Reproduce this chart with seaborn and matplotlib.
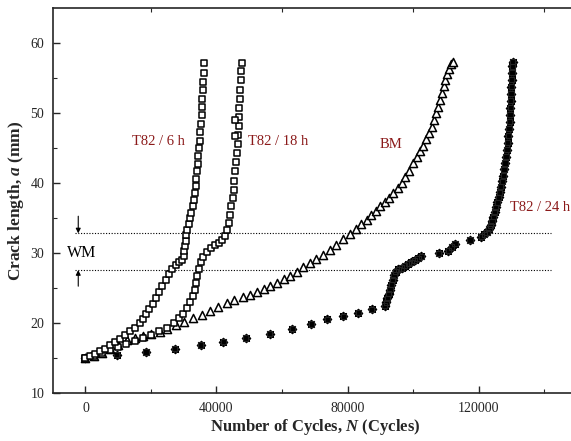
import numpy as np
import pandas as pd
import matplotlib
matplotlib.use("Agg")
import matplotlib.pyplot as plt
import seaborn as sns

sns.set_style("ticks")
plt.rcParams['font.family'] = ['Liberation Serif', 'DejaVu Serif']
plt.rcParams['mathtext.fontset'] = 'custom'
plt.rcParams['mathtext.rm'] = 'Liberation Serif'
plt.rcParams['mathtext.it'] = 'Liberation Serif:italic:bold'
plt.rcParams['mathtext.bf'] = 'Liberation Serif:bold'

# ---------------- data ----------------
n_6h = [0, 1500, 3000, 4500, 6000, 7500, 9000, 10500, 12000, 13500, 15000, 16500,
        17500, 18500, 19500, 20500, 21500, 22500, 23500, 24500, 25500, 26500, 27500,
        28500, 29500, 30000, 30200, 30400, 30600, 30800, 31100, 31500, 31900, 32300,
        32700, 33100, 33400, 33700, 33900, 34100, 34300, 34500, 34700, 34900, 35100,
        35300, 35500, 35600, 35700, 35800, 35900, 36100, 36300]
a_6h = [15.0, 15.3, 15.6, 16.0, 16.4, 16.9, 17.3, 17.8, 18.4, 18.9, 19.4, 20.0,
        20.6, 21.3, 22.0, 22.8, 23.6, 24.5, 25.3, 26.2, 27.1, 27.8, 28.3,
        28.7, 29.1, 29.6, 30.3, 31.0, 31.8, 32.6, 33.4, 34.2, 35.0, 35.8,
        36.7, 37.6, 38.6, 39.6, 40.6, 41.7, 42.8, 43.9, 45.0, 46.1, 47.3,
        48.5, 49.7, 50.9, 52.1, 53.3, 54.5, 55.8, 57.2]

n_18h = [0, 2500, 5000, 7500, 10000, 12500, 15000, 17500, 20000, 22500, 25000, 27000,
         28500, 29900, 31000, 32000, 32800, 33400, 33800, 34200, 34700, 35300, 36000,
         37000, 38200, 39500, 40800, 41800, 42600, 43200, 43700, 44100, 44500, 44900,
         45200, 45500, 45800, 46100, 46300, 46500, 46700, 46800, 46900, 47000, 47100,
         47300, 47400, 47500, 47700, 45600, 45600]
a_18h = [15.0, 15.4, 15.8, 16.2, 16.6, 17.0, 17.5, 17.9, 18.4, 18.9, 19.4, 20.0,
         20.7, 21.4, 22.2, 23.0, 23.9, 24.8, 25.8, 26.8, 27.8, 28.7, 29.5,
         30.2, 30.8, 31.2, 31.5, 31.9, 32.5, 33.4, 34.4, 35.5, 36.7, 37.9,
         39.1, 40.4, 41.7, 43.0, 44.3, 45.6, 46.9, 48.2, 49.5, 50.8, 52.1,
         53.4, 54.7, 56.0, 57.2, 49.0, 46.7]

n_bm = [0, 2500, 5000, 7500, 10000, 12600, 15000, 17500, 20000, 22700, 25000, 27500,
        30000, 32900, 35500, 38000, 40500, 43100, 45500, 48000, 50200, 52500, 54500,
        56300, 58500, 60500, 62400, 64500, 66500, 68500, 70500, 72500, 74600, 76500,
        78500, 80700, 82500, 84200, 85800, 87300, 88800, 90000, 91300, 92600, 94000,
        95300, 96500, 97700, 98900, 100100, 101200, 102200, 103100, 104000, 104900,
        105700, 106400, 107100, 107700, 108300, 108800, 109400, 109900, 110400,
        110900, 111500, 112300]
a_bm = [15.0, 15.4, 15.8, 16.3, 16.9, 17.6, 17.9, 18.2, 18.5, 18.8, 19.2, 19.7,
        20.2, 20.7, 21.2, 21.8, 22.4, 22.9, 23.4, 23.8, 24.1, 24.5, 24.9,
        25.3, 25.8, 26.3, 26.8, 27.4, 28.0, 28.6, 29.2, 29.8, 30.5, 31.2,
        32.0, 32.8, 33.5, 34.2, 34.8, 35.5, 36.1, 36.7, 37.3, 37.9, 38.6,
        39.3, 40.1, 40.9, 41.8, 42.9, 43.8, 44.6, 45.3, 46.3, 47.2,
        48.1, 49.1, 50.0, 50.9, 51.9, 52.9, 53.9, 54.8, 55.6,
        56.4, 57.0, 57.4]

n_24h = [0, 9500, 18500, 27300, 35200, 42100, 48900, 56300, 63200, 69000, 73800,
         78700, 83300, 87400, 91400, 91800, 92200, 92600, 93000, 93400, 93800, 94200,
         94700, 95500, 96500, 97500, 98500, 99500, 100500, 101500, 102500, 107900,
         110800, 111800, 112800, 117400, 120900, 121800, 122600, 123200, 123700,
         124100, 124500, 124900, 125300, 125700, 126100, 126500, 126800, 127200,
         127500, 127800, 128100, 128400, 128700, 128900, 129100, 129300, 129500,
         129600, 129700, 129800, 129900, 130000, 130100, 130200, 130300, 130400]
a_24h = [15.0, 15.5, 15.9, 16.4, 16.9, 17.4, 17.9, 18.5, 19.2, 19.9, 20.6,
         21.0, 21.5, 22.0, 22.5, 23.0, 23.6, 24.2, 24.8, 25.5, 26.2, 26.9,
         27.4, 27.7, 27.9, 28.2, 28.5, 28.7, 29.0, 29.3, 29.6, 30.0,
         30.4, 30.9, 31.4, 31.9, 32.4, 32.7, 33.0, 33.5, 34.0,
         34.6, 35.2, 35.9, 36.6, 37.3, 38.0, 38.7, 39.5, 40.3,
         41.1, 42.0, 42.9, 43.8, 44.8, 45.8, 46.8, 47.8, 48.8,
         49.8, 50.8, 51.8, 52.8, 53.8, 54.8, 55.8, 56.7, 57.4]

wm_lines = [27.6, 32.85]
x_ticks = [0, 40000, 80000, 120000]
y_ticks = [10, 20, 30, 40, 50, 60]

# ---------------- figure ----------------
fig = plt.figure(figsize=(5.71, 4.41), dpi=100)
W, H = 571, 441
x0, x1, ytop, ybot = 52.7, 576.8, 8.3, 393.3
ax = fig.add_axes([x0 / W, 1 - ybot / H, (x1 - x0) / W, (ybot - ytop) / H])

red = '#8b1a1a'

df6 = pd.DataFrame({'N': n_6h, 'a': a_6h})
df18 = pd.DataFrame({'N': n_18h, 'a': a_18h})
dfbm = pd.DataFrame({'N': n_bm, 'a': a_bm})
df24 = pd.DataFrame({'N': n_24h, 'a': a_24h})

sns.scatterplot(data=df24, x='N', y='a', ax=ax, marker=(8, 2, 0), s=30,
                color='black', linewidth=1.3, zorder=3)
sns.scatterplot(data=df24, x='N', y='a', ax=ax, marker='s', s=14,
                facecolor='none', edgecolor='#222222', linewidth=0.8, zorder=3)
sns.scatterplot(data=dfbm, x='N', y='a', ax=ax, marker='^', s=34,
                facecolor='white', edgecolor='black', linewidth=1.1, zorder=4)
sns.scatterplot(data=df18, x='N', y='a', ax=ax, marker='s', s=22,
                facecolor='white', edgecolor='black', linewidth=1.1, zorder=4)
sns.scatterplot(data=df6, x='N', y='a', ax=ax, marker='s', s=22,
                facecolor='white', edgecolor='black', linewidth=1.1, zorder=5)

for yv in wm_lines:
    ax.plot([-3200, 142000], [yv, yv], linestyle=(0, (1, 1.5)), color='black',
            linewidth=0.8, zorder=1)

ax.annotate('', xy=(-2200, wm_lines[1]), xytext=(-2200, 35.3),
            arrowprops=dict(arrowstyle='-|>', color='black', lw=0.8,
                            mutation_scale=7, shrinkA=0, shrinkB=0))
ax.annotate('', xy=(-2200, wm_lines[0]), xytext=(-2200, 25.3),
            arrowprops=dict(arrowstyle='-|>', color='black', lw=0.8,
                            mutation_scale=7, shrinkA=0, shrinkB=0))
ax.text(-1200, 30.0, 'WM', ha='center', va='center', fontsize=11.5, color='black')

ax.text(30500, 46.0, 'T82 / 6 h', ha='right', va='center', fontsize=10.5, color=red)
ax.text(49700, 46.0, 'T82 / 18 h', ha='left', va='center', fontsize=10.5, color=red)
ax.text(89900, 45.5, 'BM', ha='left', va='center', fontsize=10.5, color=red)
ax.text(129600, 36.5, 'T82 / 24 h', ha='left', va='center', fontsize=10.5, color=red)

ax.set_xlim(-10000, 150000)
ax.set_ylim(10, 65)
ax.set_xticks(x_ticks)
ax.set_xticks(np.arange(-0, 150001, 20000), minor=True)
ax.set_yticks(y_ticks)
ax.set_yticks(np.arange(15, 65, 10), minor=True)
ax.tick_params(which='major', direction='in', length=5, width=1.0, labelsize=10,
               top=False, right=False, pad=6)
ax.tick_params(which='minor', direction='in', length=3, width=0.8, top=False, right=False)
ax.tick_params(axis='x', which='minor', top=True)
for s in ax.spines.values():
    s.set_linewidth(1.2)

ax.set_xlabel(r'Number of Cycles, $N$ (Cycles)', fontsize=12, fontweight='bold', labelpad=2)
ax.set_ylabel(r'Crack length, $a$ (mm)', fontsize=12.5, fontweight='bold', labelpad=3)

fig.savefig('out.png', dpi=100)
